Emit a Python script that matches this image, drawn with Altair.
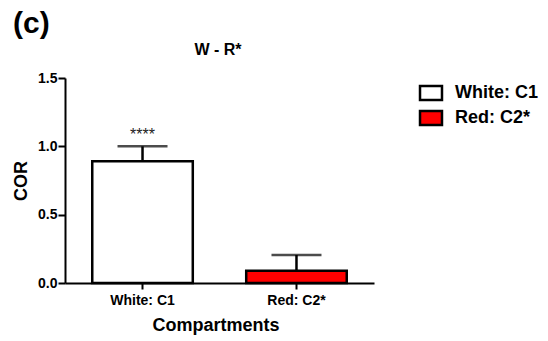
import altair as alt
import pandas as pd

# ---- data ----
categories = ["White: C1", "Red: C2*"]
means = [0.89, 0.09]
errors = [0.11, 0.115]
bar_colors = ["#ffffff", "#ff0000"]
sig_labels = ["****", ""]
panel_label = "(c)"
chart_title = "W - R*"
y_ticks = [0.0, 0.5, 1.0, 1.5]

FONT = "Liberation Sans"

df = pd.DataFrame({
    "cat": categories,
    "mean": means,
    "err": errors,
    "sig": sig_labels,
})
df["upper"] = df["mean"] + df["err"]

x_enc = alt.X(
    "cat:N",
    sort=categories,
    scale=alt.Scale(paddingInner=0.347, paddingOuter=0.177),
    axis=alt.Axis(
        title="Compartments",
        labelAngle=0, grid=False,
        labelFont=FONT, labelFontSize=14, labelFontWeight="bold", labelColor="black",
        labelPadding=4,
        tickSize=6, tickWidth=2, tickColor="black",
        domainWidth=2, domainColor="black",
        titleFont=FONT, titleFontSize=18, titleFontWeight="bold", titleColor="black",
        titleBaseline="alphabetic", titleY=47, titleX=150.5, titleAlign="center",
    ),
)

y_scale = alt.Scale(domain=[0, 1.5], nice=False, zero=True)

bars = alt.Chart(df).mark_bar(stroke="black", strokeWidth=2.5).encode(
    x=x_enc,
    y=alt.Y(
        "mean:Q",
        scale=y_scale,
        axis=alt.Axis(
            title="COR",
            values=y_ticks, format=".1f", grid=False,
            labelFont=FONT, labelFontSize=14, labelFontWeight="bold", labelColor="black",
            labelPadding=1,
            tickSize=7, tickWidth=2, tickColor="black",
            domainWidth=2, domainColor="black",
            titleFont=FONT, titleFontSize=18, titleFontWeight="bold", titleColor="black",
            titleBaseline="alphabetic", titleX=-39, titleY=102.5, titleAlign="center",
            titleAngle=270,
        ),
    ),
    fill=alt.Fill(
        "cat:N",
        sort=categories,
        scale=alt.Scale(domain=categories, range=bar_colors),
        legend=alt.Legend(
            title=None,
            orient="none",
            legendX=357,
            legendY=6,
            padding=0,
            symbolType="M-1.57,-1H1.57V1H-1.57Z",
            symbolSize=196,
            symbolStrokeColor="black",
            symbolStrokeWidth=2.5,
            labelFont=FONT, labelFontSize=18, labelFontWeight="bold", labelColor="black",
            labelOffset=15,
            rowPadding=1,
        ),
    ),
)

err_rule = alt.Chart(df).mark_rule(color="black", strokeWidth=2.5).encode(
    x=alt.X("cat:N", sort=categories),
    y=alt.Y("mean:Q", scale=y_scale),
    y2="upper:Q",
)

caps = alt.Chart(df).mark_tick(color="black", size=50, thickness=2.5).encode(
    x=alt.X("cat:N", sort=categories),
    y=alt.Y("upper:Q", scale=y_scale),
)

sig = alt.Chart(df).mark_text(
    font=FONT, fontSize=16, color="#222222", baseline="alphabetic", dy=-6
).encode(
    x=alt.X("cat:N", sort=categories),
    y=alt.Y("upper:Q", scale=y_scale),
    text="sig:N",
)

panel = alt.Chart(pd.DataFrame({"t": [panel_label]})).mark_text(
    font=FONT, fontSize=30, fontWeight="bold", color="black",
    align="left", baseline="alphabetic",
).encode(
    x=alt.value(-52),
    y=alt.value(-45),
    text="t:N",
)

title_txt = alt.Chart(pd.DataFrame({"t": [chart_title]})).mark_text(
    font=FONT, fontSize=16, fontWeight="bold", color="black",
    align="center", baseline="alphabetic",
).encode(
    x=alt.value(153),
    y=alt.value(-23),
    text="t:N",
)

chart = (
    alt.layer(bars, err_rule, caps, sig, panel, title_txt)
    .properties(
        width=309,
        height=205,
        view=alt.ViewBackground(stroke="transparent", strokeWidth=0),
        autosize=alt.AutoSizeParams(type="none"),
        padding={"left": 65, "top": 78, "right": 174, "bottom": 58},
    )
    .configure_view(strokeWidth=0, stroke="transparent")
    .configure_axis(grid=False)
    .configure(background="white")
)

chart.save("out.html", embed_options={"renderer": "svg", "actions": False})
